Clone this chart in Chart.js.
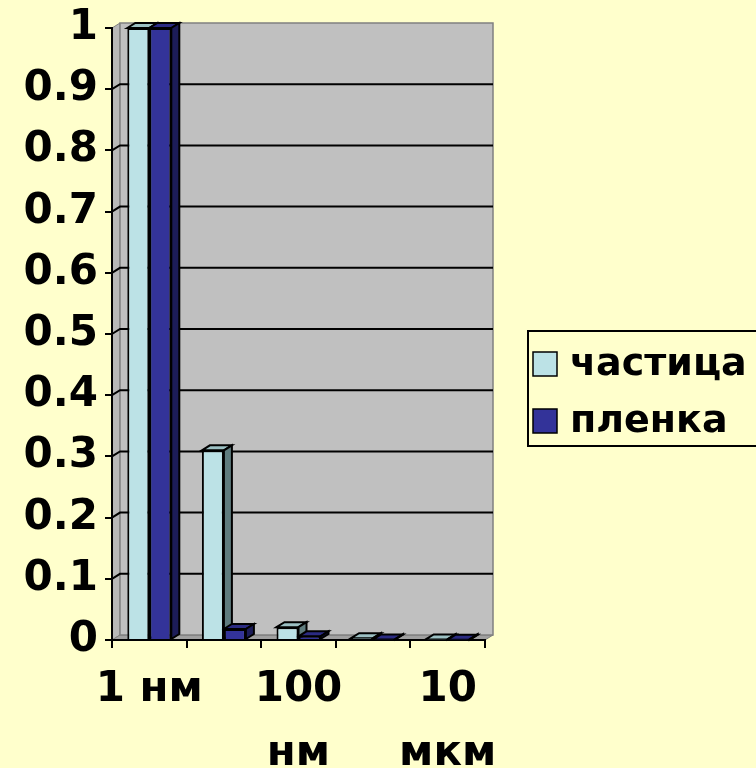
<!DOCTYPE html>
<html><head><meta charset="utf-8">
<script src="https://cdn.jsdelivr.net/npm/chart.js@4"></script>
<style>html,body{margin:0;padding:0;background:#FFFFCC;} canvas{display:block;}</style>
</head><body>
<canvas id="c" width="756" height="768"></canvas>
<script>
const categories = ['1 нм', '10 нм', '100 нм', '1 мкм', '10 мкм'];
const xTickLabels = [['1 нм'], '', ['100', 'нм'], '', ['10', 'мкм']];
const seriesNames = ['частица', 'пленка'];
const particleValues = [1, 0.31, 0.021, 0.003, 0.001];
const filmValues = [1, 0.018, 0.006, 0.001, 0.0005];
const yMin = 0, yMax = 1, yStep = 0.1;

const FONT = '"DejaVu Sans", Verdana, sans-serif';
const DX = 8, DY = 5;

function poly(ctx, pts, fill, stroke, lw) {
  ctx.beginPath();
  ctx.moveTo(pts[0][0], pts[0][1]);
  for (let i = 1; i < pts.length; i++) ctx.lineTo(pts[i][0], pts[i][1]);
  ctx.closePath();
  if (fill) { ctx.fillStyle = fill; ctx.fill(); }
  if (stroke) { ctx.strokeStyle = stroke; ctx.lineWidth = lw || 1; ctx.stroke(); }
}

const wallPlugin = {
  id: 'wall',
  beforeDraw(chart) {
    const {ctx, chartArea: a, scales: {y}} = chart;
    ctx.save();
    ctx.fillStyle = '#FFFFCC';
    ctx.fillRect(0, 0, chart.width, chart.height);
    const top = y.getPixelForValue(yMax), bot = y.getPixelForValue(yMin);
    poly(ctx, [[a.left, top], [a.left + DX, top - DY], [a.left + DX, bot - DY], [a.left, bot]], '#B8B8B8', '#808080', 1);
    poly(ctx, [[a.left, bot], [a.left + DX, bot - DY], [a.right + DX, bot - DY], [a.right, bot]], '#A0A0A0', '#808080', 1);
    poly(ctx, [[a.left + DX, top - DY], [a.right + DX, top - DY], [a.right + DX, bot - DY], [a.left + DX, bot - DY]], '#C0C0C0', '#808080', 1.5);
    ctx.strokeStyle = '#000';
    ctx.lineWidth = 2;
    for (let v = yMin + yStep; v < yMax - 1e-9; v += yStep) {
      const yy = y.getPixelForValue(v);
      ctx.beginPath();
      ctx.moveTo(a.left, yy);
      ctx.lineTo(a.left + DX, yy - DY);
      ctx.lineTo(a.right + DX, yy - DY);
      ctx.stroke();
    }
    ctx.restore();
  }
};

const bars3dPlugin = {
  id: 'bars3d',
  beforeDatasetsDraw(chart) {
    const ctx = chart.ctx;
    ctx.save();
    chart.data.datasets.forEach((ds, i) => {
      const meta = chart.getDatasetMeta(i);
      meta.data.forEach(el => {
        const l = el.x - el.width / 2, r = el.x + el.width / 2, t = el.y, b = el.base;
        poly(ctx, [[l, t], [l + DX, t - DY], [r + DX, t - DY], [r, t]], ds.topColor, '#000', 2);
        poly(ctx, [[r, t], [r + DX, t - DY], [r + DX, b - DY], [r, b]], ds.sideColor, '#000', 2);
      });
    });
    ctx.restore();
  }
};

const legendPlugin = {
  id: 'customLegend',
  afterDraw(chart) {
    const ctx = chart.ctx;
    ctx.save();
    ctx.strokeStyle = '#000';
    ctx.lineWidth = 2;
    ctx.strokeRect(528, 331, 240, 115);
    ctx.font = 'bold 38px ' + FONT;
    ctx.textBaseline = 'middle';
    ctx.textAlign = 'left';
    chart.data.datasets.forEach((ds, i) => {
      const cy = 364 + i * 57;
      ctx.fillStyle = ds.backgroundColor;
      ctx.fillRect(533, cy - 12, 24, 24);
      ctx.lineWidth = 1.5;
      ctx.strokeRect(533, cy - 12, 24, 24);
      ctx.fillStyle = '#000';
      ctx.fillText(ds.label, 570, cy + 1);
    });
    ctx.restore();
  }
};

new Chart(document.getElementById('c'), {
  type: 'bar',
  data: {
    labels: categories,
    datasets: [
      {label: seriesNames[0], data: particleValues, backgroundColor: '#BCE2E6', topColor: '#9CC0C3', sideColor: '#5F7C7E', borderColor: '#000', borderWidth: 2},
      {label: seriesNames[1], data: filmValues, backgroundColor: '#333399', topColor: '#2B2B82', sideColor: '#1C1C58', borderColor: '#000', borderWidth: 2}
    ]
  },
  options: {
    responsive: false,
    devicePixelRatio: 1,
    animation: false,
    events: [],
    layout: {padding: {left: 0, right: 271, top: 28, bottom: 0}},
    datasets: {bar: {categoryPercentage: 0.59, barPercentage: 1.0}},
    plugins: {legend: {display: false}, tooltip: {enabled: false}},
    scales: {
      x: {
        offset: true,
        grid: {display: true, drawOnChartArea: false, drawTicks: true, tickLength: 8, color: '#000', lineWidth: 2, offset: true},
        border: {display: true, color: '#000', width: 2},
        ticks: {
          autoSkip: false, maxRotation: 0, minRotation: 0, padding: 10, color: '#000',
          font: {family: FONT, size: 42, weight: 'bold', lineHeight: 1.52},
          callback: (v, i) => xTickLabels[i]
        },
        afterFit: s => { s.height = 128; }
      },
      y: {
        min: yMin, max: yMax,
        grid: {display: true, drawOnChartArea: false, drawTicks: true, tickLength: 7, color: '#000', lineWidth: 2},
        border: {display: true, color: '#000', width: 2},
        ticks: {stepSize: yStep, padding: 7, color: '#000', font: {family: FONT, size: 42, weight: 'bold', lineHeight: 1.0},
          callback: v => String(Number(v.toFixed(1)))},
        afterFit: s => { s.width = 112; }
      }
    }
  },
  plugins: [wallPlugin, bars3dPlugin, legendPlugin]
});
</script>
</body></html>
